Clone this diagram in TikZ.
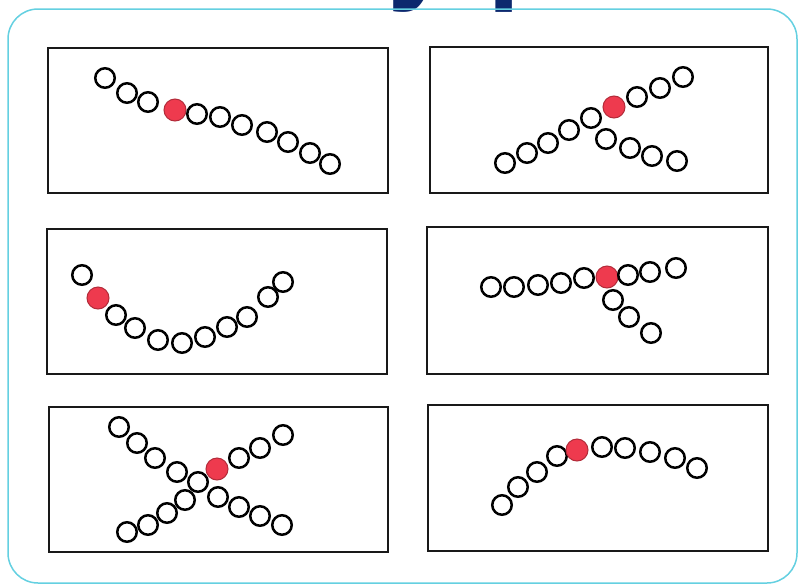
\documentclass[tikz,border=0pt]{standalone}
\usepackage{fontspec}
\newfontfamily\titlefont{Liberation Sans}
\definecolor{framecyan}{RGB}{100,208,225}
\definecolor{titlenavy}{RGB}{12,40,110}
\definecolor{beadred}{RGB}{238,58,78}
\begin{document}
\begin{tikzpicture}[x=1pt,y=-1pt,
  bead/.style={circle,draw=black,fill=white,line width=2.5pt,minimum size=19.5pt,inner sep=0pt},
  redbead/.style={circle,draw=beadred!75!black,fill=beadred,line width=1pt,minimum size=22pt,inner sep=0pt},
  panel/.style={draw=black!90,line width=2.6pt},
  frame/.style={draw=framecyan,line width=1.5pt,rounded corners=30pt}]
\useasboundingbox (0,0) rectangle (801,587);
\clip (0,0) rectangle (801,587);
\fill[white] (0,0) rectangle (801,587);
% clipped title (only descenders visible)
\node[anchor=base west,inner sep=0pt,text=titlenavy,font=\titlefont\bfseries\fontsize{120}{120}\selectfont] (title) at (387,-13) {y p};
% outer frame
\draw[frame] (8,9) rectangle (797,583);
% panels
\draw[panel] (48,48) rectangle (388,193);
\draw[panel] (430,47) rectangle (768,193);
\draw[panel] (47,229) rectangle (387,374);
\draw[panel] (427,227) rectangle (768,374);
\draw[panel] (49,407) rectangle (388,552);
\draw[panel] (428,405) rectangle (768,551);
% panel 1: linear chain
\foreach \x/\y [count=\i] in {105/78,127/93,148/102}
  \node[bead] (pa\i) at (\x,\y) {};
\node[redbead] (pared) at (175,110) {};
\foreach \x/\y [count=\i] in {197/114,220/117,242/125,267/132,288/142,310/153,330/164}
  \node[bead] (pb\i) at (\x,\y) {};
% panel 2: branched chain
\foreach \x/\y [count=\i] in {505/163,527/153,548/143,569/130,591/118}
  \node[bead] (qa\i) at (\x,\y) {};
\foreach \x/\y [count=\i] in {606/139,630/148,652/156,677/161}
  \node[bead] (qc\i) at (\x,\y) {};
\node[redbead] (qred) at (614,107) {};
\foreach \x/\y [count=\i] in {637/97,660/88,683/77}
  \node[bead] (qb\i) at (\x,\y) {};
% panel 3: bent chain
\node[bead] (ra1) at (82,275) {};
\node[redbead] (rred) at (98,298) {};
\foreach \x/\y [count=\i] in {116/315,135/328,158/340,182/343,205/337,227/327,247/317,268/297,283/282}
  \node[bead] (rb\i) at (\x,\y) {};
% panel 4: T-branch
\foreach \x/\y [count=\i] in {491/287,514/287,538/285,561/283,584/278}
  \node[bead] (sa\i) at (\x,\y) {};
\foreach \x/\y [count=\i] in {613/300,629/317,651/333}
  \node[bead] (sc\i) at (\x,\y) {};
\node[redbead] (sred) at (607,277) {};
\foreach \x/\y [count=\i] in {628/275,650/272,676/268}
  \node[bead] (sb\i) at (\x,\y) {};
% panel 5: crossing chains
\foreach \x/\y [count=\i] in {119/427,137/443,155/458,177/472}
  \node[bead] (ta\i) at (\x,\y) {};
\foreach \x/\y [count=\i] in {127/532,148/525,167/513,185/500}
  \node[bead] (tc\i) at (\x,\y) {};
\node[bead] (tx) at (198,482) {};
\foreach \x/\y [count=\i] in {218/497,239/507,260/516,282/525}
  \node[bead] (tb\i) at (\x,\y) {};
\node[redbead] (tred) at (217,469) {};
\foreach \x/\y [count=\i] in {239/458,260/448,283/435}
  \node[bead] (td\i) at (\x,\y) {};
% panel 6: arched chain
\foreach \x/\y [count=\i] in {502/505,518/487,537/472,557/456}
  \node[bead] (ua\i) at (\x,\y) {};
\node[redbead] (ured) at (577,450) {};
\foreach \x/\y [count=\i] in {602/447,625/448,650/452,675/458,697/468}
  \node[bead] (ub\i) at (\x,\y) {};
\end{tikzpicture}
\end{document}
